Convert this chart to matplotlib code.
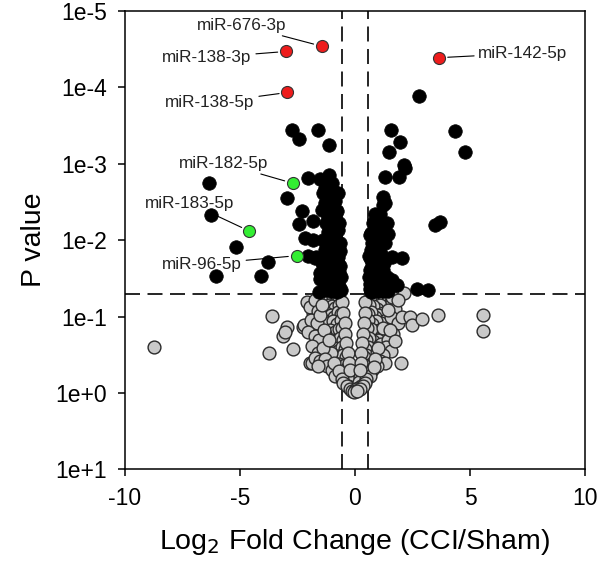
import numpy as np
import matplotlib.pyplot as plt

plt.rcParams['font.family'] = ['Liberation Sans', 'DejaVu Sans']
plt.rcParams['axes.unicode_minus'] = False

# significant (black) points: log2 fold change, p value
sig_x = [-2.75, -2.42, -1.62, -1.13, -6.35, -6.26, -2.94, -2.29, -2.43, -2.03,
         -1.52, -1.12, -1.30, -1.01, -1.84, -5.17, -3.77, -6.06, -4.09, -2.17,
         -1.81, -2.03, -1.70, -1.52, -1.38, -1.30, -1.16, -1.09, -1.16, -1.38,
         -0.94, -0.87, -1.30, -0.73, -1.74, -1.38, -1.01, -1.52, -1.23, -0.80,
         -0.87, -0.65, -0.73, -0.65, -0.94, -0.80, -0.94, -1.05, -0.85, -1.20,
         -1.05, -0.90, -1.15, -0.70, -1.10, -0.95, -0.70, -1.30, -1.05, -0.80,
         -1.25, -1.45, -0.62, -0.62, -0.66, -0.68, -0.75, -0.78, -0.85, -0.88,
         -0.92, -0.98, -1.00, -1.02, -1.08, -1.12, -1.18, -1.22, -1.25, -1.35,
         -1.40, -1.42, -0.72, -1.55, -0.98,
         2.80, 1.55, 1.96, 1.48, 2.14, 2.17, 1.30, 1.93, 4.35, 4.80,
         1.23, 1.30, 0.87, 0.80, 1.16, 1.45, 0.94, 1.30, 0.80, 1.60,
         2.03, 1.09, 0.65, 1.23, 0.94, 1.60, 0.65, 1.81, 1.23, 3.48,
         3.70, 2.68, 3.19, 0.70, 0.75, 1.00, 0.70, 0.90, 1.10, 0.80,
         1.40, 0.75, 1.00, 1.45, 0.68, 1.05, 1.20, 1.10, 0.62, 0.62,
         0.64, 0.66, 0.70, 0.72, 0.75, 0.82, 0.85, 0.88, 0.92, 0.95,
         1.00, 1.05, 1.12, 1.15, 1.20, 1.28, 1.35, 1.38]
sig_p = [3.6e-4, 4.8e-4, 3.6e-4, 5.7e-4, 1.8e-3, 4.7e-3, 2.8e-3, 4.1e-3, 6.2e-3, 1.55e-3,
         1.6e-3, 1.4e-3, 2.1e-3, 2.2e-3, 5.6e-3, 1.23e-2, 1.95e-2, 2.96e-2, 2.96e-2, 9.5e-3,
         1.0e-2, 1.6e-2, 1.66e-2, 2.7e-2, 2.45e-3, 3.3e-3, 5.0e-3, 6.7e-3, 7.8e-3, 1.0e-2,
         1.0e-2, 1.35e-2, 1.35e-2, 1.66e-2, 1.74e-2, 2.45e-2, 2.74e-2, 3.2e-2, 3.7e-2, 3.3e-2,
         4.1e-2, 2.2e-2, 7.4e-3, 1.1e-2, 3.0e-3, 4.1e-3, 5.5e-3, 8.5e-3, 9.0e-3, 1.2e-2,
         1.6e-2, 1.9e-2, 2.0e-2, 2.6e-2, 3.1e-2, 3.5e-2, 4.0e-2, 4.5e-2, 4.7e-2, 4.8e-2,
         2.9e-2, 2.0e-2, 3.0e-2, 4.5e-2, 1.4e-2, 6.0e-3, 2.0e-2, 3.8e-2, 2.4e-2, 3.1e-3,
         4.4e-2, 1.15e-2, 2.9e-2, 4.2e-3, 2.3e-2, 1.05e-2, 4.2e-2, 1.6e-2, 6.0e-3, 3.4e-2,
         1.7e-2, 4.0e-3, 2.4e-3, 4.8e-2, 1.8e-3,
         1.3e-4, 3.6e-4, 5.2e-4, 7.1e-4, 1.05e-3, 1.15e-3, 1.5e-3, 1.5e-3, 3.7e-4, 7.1e-4,
         2.7e-3, 3.3e-3, 4.5e-3, 6.0e-3, 6.7e-3, 8.2e-3, 1.0e-2, 1.1e-2, 1.35e-2, 1.66e-2,
         1.74e-2, 1.8e-2, 2.45e-2, 2.45e-2, 3.2e-2, 3.3e-2, 3.7e-2, 3.9e-2, 4.1e-2, 6.4e-3,
         5.8e-3, 4.3e-2, 4.5e-2, 8.0e-3, 1.1e-2, 1.3e-2, 1.8e-2, 2.1e-2, 2.8e-2, 2.9e-2,
         3.0e-2, 4.4e-2, 4.6e-2, 4.7e-2, 4.8e-2, 3.8e-2, 3.5e-3, 4.5e-3, 1.6e-2, 3.0e-2,
         4.4e-2, 8.5e-3, 1.35e-2, 2.2e-2, 3.4e-2, 4.6e-2, 1.7e-2, 2.6e-2, 7.5e-3, 4.0e-2,
         2.3e-2, 1.0e-2, 3.3e-2, 1.5e-2, 4.6e-2, 2.0e-2, 3.8e-2, 6.0e-3]

# not significant (grey) points
ns_x = [-8.74, -3.60, -3.74, -2.97, -3.12, -3.05, -2.71, -2.25, -1.96, -1.81,
        -1.70, -1.52, -1.38, -1.88, -2.22, -1.81,
        -1.45, -1.30, -1.10, -0.95, -0.80, -0.70, -1.35, -1.15, -0.98, -0.85,
        -0.68, -1.25, -1.05, -0.90, -0.75, -0.62, -1.40, -1.20, -0.95, -0.78,
        -0.60, -1.10, -0.88, -0.70, -0.55, -1.30, -1.00, -0.82, -0.65, -0.50,
        -1.20, -0.92, -0.72, -0.58, -0.45, -0.80, -0.62, -0.50, -0.40, -1.05,
        -0.70, -0.55, -0.42, -0.35, -0.60, -0.45, -0.32, -0.25, -0.40, -0.28,
        -0.18, -0.30, -0.15, -0.08,
        -2.10, -1.95, -1.75, -1.60, -1.90, -1.65, -1.50, -2.05, -1.75, -1.55,
        -1.85, -1.60, -1.40, -1.75, -1.50, -1.30, -1.20, -1.00, -0.90, -1.60,
        -0.85, -0.70, -0.55, -0.50, -0.35, -0.20, -0.12, -1.35, -1.15, -1.45,
        -0.55, -0.50, -0.45, -0.42, -0.38, -0.32, -0.28, -0.22,
        1.40, 1.25, 1.05, 0.90, 0.75, 0.65, 1.30, 1.10, 0.95, 0.80,
        0.62, 1.20, 1.00, 0.85, 0.70, 0.58, 1.35, 1.12, 0.92, 0.75,
        0.58, 1.05, 0.85, 0.68, 0.52, 1.25, 0.98, 0.80, 0.62, 0.48,
        1.15, 0.90, 0.70, 0.55, 0.42, 0.78, 0.60, 0.48, 0.38, 0.95,
        0.68, 0.52, 0.40, 0.33, 0.58, 0.44, 0.30, 0.22, 0.38, 0.26,
        0.16, 0.28, 0.12, 0.05, 0.00, -0.03,
        1.60, 1.75, 1.55, 1.85, 1.65, 1.45, 1.35, 1.55, 1.20, 1.10,
        1.30, 0.95, 0.75, 0.65, 0.50, 0.45, 0.33, 0.20, 0.10, 0.45,
        0.42, 0.38, 0.35, 0.32, 0.28, 0.25, 0.20, 1.20, 1.00, 0.85,
        2.13, 2.03, 2.39, 2.46, 2.93, 3.62, 5.58, 5.58, 2.00, 1.45,
        1.52, 1.74, 0.83, 1.60, 1.85]
ns_p = [0.25, 0.098, 0.30, 0.137, 0.18, 0.16, 0.27, 0.137, 0.41, 0.091,
        0.25, 0.14, 0.068, 0.41, 0.13, 0.068,
        0.056, 0.06, 0.058, 0.055, 0.06, 0.057, 0.075, 0.07, 0.072, 0.078,
        0.07, 0.09, 0.095, 0.10, 0.088, 0.092, 0.11, 0.12, 0.115, 0.125,
        0.11, 0.15, 0.16, 0.145, 0.14, 0.17, 0.20, 0.21, 0.19, 0.20,
        0.23, 0.26, 0.28, 0.25, 0.27, 0.33, 0.35, 0.32, 0.34, 0.30,
        0.42, 0.45, 0.43, 0.47, 0.55, 0.58, 0.60, 0.62, 0.70, 0.74,
        0.72, 0.82, 0.85, 0.90,
        0.065, 0.075, 0.06, 0.085, 0.11, 0.12, 0.095, 0.16, 0.18, 0.20,
        0.24, 0.30, 0.26, 0.35, 0.38, 0.36, 0.45, 0.50, 0.40, 0.45,
        0.60, 0.52, 0.65, 0.75, 0.80, 0.90, 0.95, 0.15, 0.20, 0.07,
        0.065, 0.09, 0.12, 0.17, 0.22, 0.30, 0.40, 0.50,
        0.057, 0.06, 0.058, 0.055, 0.06, 0.056, 0.075, 0.07, 0.08, 0.072,
        0.07, 0.09, 0.095, 0.10, 0.088, 0.092, 0.11, 0.12, 0.115, 0.125,
        0.11, 0.15, 0.16, 0.145, 0.14, 0.17, 0.20, 0.21, 0.19, 0.20,
        0.23, 0.26, 0.28, 0.25, 0.27, 0.33, 0.35, 0.32, 0.34, 0.30,
        0.42, 0.45, 0.43, 0.47, 0.55, 0.58, 0.60, 0.62, 0.70, 0.74,
        0.72, 0.82, 0.85, 0.90, 0.95, 0.97,
        0.065, 0.08, 0.10, 0.12, 0.17, 0.20, 0.25, 0.28, 0.32, 0.38,
        0.40, 0.45, 0.50, 0.60, 0.66, 0.75, 0.80, 0.88, 0.95, 0.065,
        0.09, 0.12, 0.17, 0.22, 0.30, 0.40, 0.50, 0.14, 0.26, 0.36,
        0.049, 0.10, 0.10, 0.13, 0.107, 0.096, 0.096, 0.155, 0.40, 0.081,
        0.15, 0.21, 0.46, 0.055, 0.06]

# labelled miRNAs
red_names = ['miR-676-3p', 'miR-138-3p', 'miR-138-5p', 'miR-142-5p']
red_x = [-1.45, -3.0, -2.94, 3.67]
red_p = [2.9e-5, 3.4e-5, 1.17e-4, 4.1e-5]
red_tx = [-4.91, -6.43, -6.30, 7.30]
red_tp = [1.54e-5, 4.1e-5, 1.6e-4, 3.6e-5]

green_names = ['miR-182-5p', 'miR-183-5p', 'miR-96-5p']
green_x = [-2.71, -4.6, -2.54]
green_p = [1.8e-3, 7.6e-3, 1.6e-2]
green_tx = [-5.70, -7.17, -6.65]
green_tp = [9.9e-4, 3.3e-3, 2.07e-2]

fc_cut = 0.585
p_cut = 0.05

fig = plt.figure(figsize=(6, 5.71), dpi=100)
ax = fig.add_axes([0.2083, 0.178, 0.7667, 0.803])

dash = (0, (9, 4.5))
ax.axhline(p_cut, color='black', lw=1.2, linestyle=dash, zorder=1)
ax.axvline(-fc_cut, color='black', lw=1.2, linestyle=dash, zorder=1)
ax.axvline(fc_cut, color='black', lw=1.2, linestyle=dash, zorder=1)

ax.scatter(ns_x, ns_p, s=85, facecolor='#c9c9c9', edgecolor='#2a2a2a', lw=1.0, zorder=2)
ax.scatter(sig_x, sig_p, s=95, facecolor='black', edgecolor='black', lw=0.5, zorder=3)
ax.scatter(red_x, red_p, s=75, facecolor='#ee1c1c', edgecolor='#333333', lw=0.8, zorder=4)
ax.scatter(green_x, green_p, s=75, facecolor='#33ee33', edgecolor='#333333', lw=0.8, zorder=4)

for name, x, p, tx, tp in zip(red_names + green_names, red_x + green_x, red_p + green_p,
                              red_tx + green_tx, red_tp + green_tp):
    ax.annotate(name, xy=(x, p), xytext=(tx, tp), ha='center', va='center',
                fontsize=12.3, color='#222222',
                arrowprops=dict(arrowstyle='-', color='black', lw=0.8, shrinkA=1, shrinkB=6),
                zorder=5)

ax.set_yscale('log')
ax.set_ylim(10, 1e-5)
ax.set_xlim(-10, 10)
yt = [1e-5, 1e-4, 1e-3, 1e-2, 1e-1, 1, 10]
ax.set_yticks(yt)
ax.set_yticklabels(['1e-5', '1e-4', '1e-3', '1e-2', '1e-1', '1e+0', '1e+1'])
ax.yaxis.set_minor_locator(plt.NullLocator())
ax.set_xticks([-10, -5, 0, 5, 10])
ax.tick_params(direction='out', length=5, width=1.1, labelsize=16.5, pad=8)

for sp in ax.spines.values():
    sp.set_linewidth(1.1)

ax.set_xlabel('Log$_2$ Fold Change (CCI/Sham)', fontsize=20.5, labelpad=12)
ax.set_ylabel('P value', fontsize=20.5, labelpad=6)

fig.savefig('out.png', dpi=100)
